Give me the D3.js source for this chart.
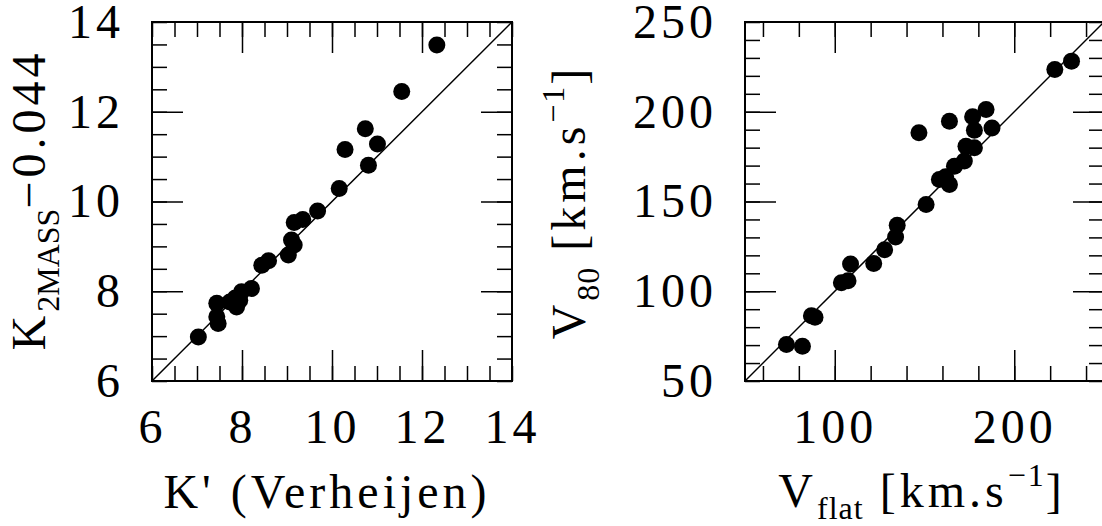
<!DOCTYPE html>
<html>
<head>
<script src="https://d3js.org/d3.v7.min.js"></script>
<style>
  body { margin: 0; background: #fff; }
  text { font-family: "Liberation Serif", serif; fill: #000; }
</style>
</head>
<body>
<div id="container"></div>
<script>
const width = 1102, height = 526;

// left panel: K' (Verheijen) against K_2MASS - 0.044
const kVerheijen = [12.33, 11.55, 10.74, 10.29, 11.01, 10.81, 10.16, 9.68, 9.35, 9.16, 9.10, 9.03, 9.16,
                    8.59, 8.44, 8.21, 7.99, 7.88, 7.73, 7.95, 7.44, 7.44, 7.47, 7.03, 7.85];
const k2mass     = [13.49, 12.45, 11.62, 11.16, 11.28, 10.81, 10.29, 9.79, 9.60, 9.53, 9.14, 8.81, 9.03,
                    8.68, 8.58, 8.06, 7.99, 7.65, 7.76, 7.80, 7.73, 7.43, 7.28, 6.98, 7.85];

// right panel: V_flat against V_80
const vFlat = [231.9, 222.6, 184.3, 176.8, 163.9, 146.9, 187.6, 177.8, 173.1, 177.8, 172.2, 166.7, 158.3, 161.8,
               163.9, 150.9, 134.8, 133.9, 127.8, 121.7, 108.8, 103.7, 107.4, 87.0, 89.0, 73.1, 82.0];
const v80   = [228.2, 223.5, 201.3, 197.2, 194.7, 188.3, 191.0, 189.7, 180.8, 179.9, 172.5, 169.7, 162.3, 163.8,
               159.5, 148.3, 136.8, 130.2, 123.1, 115.5, 115.2, 104.7, 105.8, 86.4, 85.5, 70.3, 69.4];

const kTicks = [6, 8, 10, 12, 14];
const vYTicks = [50, 100, 150, 200, 250];
const vXTicks = [100, 200];

const svg = d3.select("#container").append("svg")
    .attr("width", width)
    .attr("height", height);

const yTop = 22, yBottom = 381;
const minorLen = 15, majorLen = 31;
const fontSize = 48, subSize = 32;

function panel(p) {
    const x = d3.scaleLinear().domain(p.xDomain).range([p.left, p.right]);
    const y = d3.scaleLinear().domain(p.yDomain).range([yBottom, yTop]);
    const g = svg.append("g");

    // ticks on all four sides, pointing inward
    [[p.xMinor, minorLen], [p.xMajor, majorLen]].forEach(([vals, len]) => {
        g.append("g").attr("transform", `translate(0,${yBottom})`)
            .call(d3.axisBottom(x).tickValues(vals).tickSize(-len).tickFormat(""));
        g.append("g").attr("transform", `translate(0,${yTop})`)
            .call(d3.axisTop(x).tickValues(vals).tickSize(-len).tickFormat(""));
    });
    [[p.yMinor, minorLen], [p.yMajor, majorLen]].forEach(([vals, len]) => {
        g.append("g").attr("transform", `translate(${p.left},0)`)
            .call(d3.axisLeft(y).tickValues(vals).tickSize(-len).tickFormat(""));
        g.append("g").attr("transform", `translate(${p.right},0)`)
            .call(d3.axisRight(y).tickValues(vals).tickSize(-len).tickFormat(""));
    });

    // tick labels
    g.append("g").attr("transform", `translate(0,${yBottom})`)
        .call(d3.axisBottom(x).tickValues(p.xLabels).tickSize(0).tickPadding(28).tickFormat(d3.format("d")));
    g.append("g").attr("transform", `translate(${p.left},0)`)
        .call(d3.axisLeft(y).tickValues(p.yLabels).tickSize(0).tickPadding(28).tickFormat(d3.format("d")));

    g.selectAll(".domain").remove();
    g.selectAll(".tick line").attr("stroke", "#000").attr("stroke-width", 1.5);
    g.selectAll(".tick text")
        .style("font-family", '"Liberation Serif", serif')
        .style("font-size", fontSize + "px")
        .style("letter-spacing", "4px");

    // frame
    g.append("rect")
        .attr("x", p.left).attr("y", yTop)
        .attr("width", p.right - p.left).attr("height", yBottom - yTop)
        .attr("fill", "none").attr("stroke", "#000").attr("stroke-width", 2);

    // one-to-one line
    g.append("line")
        .attr("x1", x(p.xDomain[0])).attr("y1", y(p.yDomain[0]))
        .attr("x2", x(p.xDomain[1])).attr("y2", y(p.yDomain[1]))
        .attr("stroke", "#000").attr("stroke-width", 1.5);

    g.selectAll("circle.pt")
        .data(p.xs)
        .join("circle")
        .attr("class", "pt")
        .attr("cx", d => x(d))
        .attr("cy", (d, i) => y(p.ys[i]))
        .attr("r", 8.5)
        .attr("fill", "#000");
}

panel({
    left: 152, right: 512,
    xDomain: [6, 14], yDomain: [6, 14],
    xMinor: d3.range(6, 14.01, 0.5), xMajor: [8, 10, 12],
    yMinor: d3.range(6, 14.01, 0.5), yMajor: [8, 10, 12],
    xLabels: kTicks, yLabels: kTicks,
    xs: kVerheijen, ys: k2mass
});

panel({
    left: 745, right: 1104,
    xDomain: [50, 250], yDomain: [50, 250],
    xMinor: d3.range(60, 250, 20), xMajor: vXTicks,
    yMinor: d3.range(50, 251, 10), yMajor: [100, 150, 200],
    xLabels: vXTicks, yLabels: vYTicks,
    xs: vFlat, ys: v80
});

// axis titles, parts are [text, dy, size, letter spacing]
function title(tr, parts) {
    const t = svg.append("text")
        .attr("transform", tr)
        .attr("text-anchor", "middle")
        .style("font-size", fontSize + "px");
    parts.forEach(([txt, dy, size, ls]) => {
        t.append("tspan").attr("dy", dy)
            .style("font-size", size + "px")
            .style("letter-spacing", ls + "px")
            .text(txt);
    });
}

title("translate(45,200) rotate(-90)", [["K", 0, fontSize, 4], ["2MASS", 14, subSize, 0], ["\u22120.044", -14, fontSize, 4]]);
title("translate(327,508)", [["K' (Verheijen)", 0, fontSize, 4]]);

title("translate(585,202) rotate(-90)", [["V", 0, fontSize, 4], ["80", 14, subSize, 1], [" [km.s", -14, fontSize, 4],
    ["\u22121", -21, subSize, 2], ["]", 21, fontSize, 4]]);
title("translate(922,507)", [["V", 0, fontSize, 4], ["flat", 12, subSize, 1], [" [km.s", -12, fontSize, 4],
    ["\u22121", -21, subSize, 2], ["]", 21, fontSize, 4]]);
</script>
</body>
</html>
